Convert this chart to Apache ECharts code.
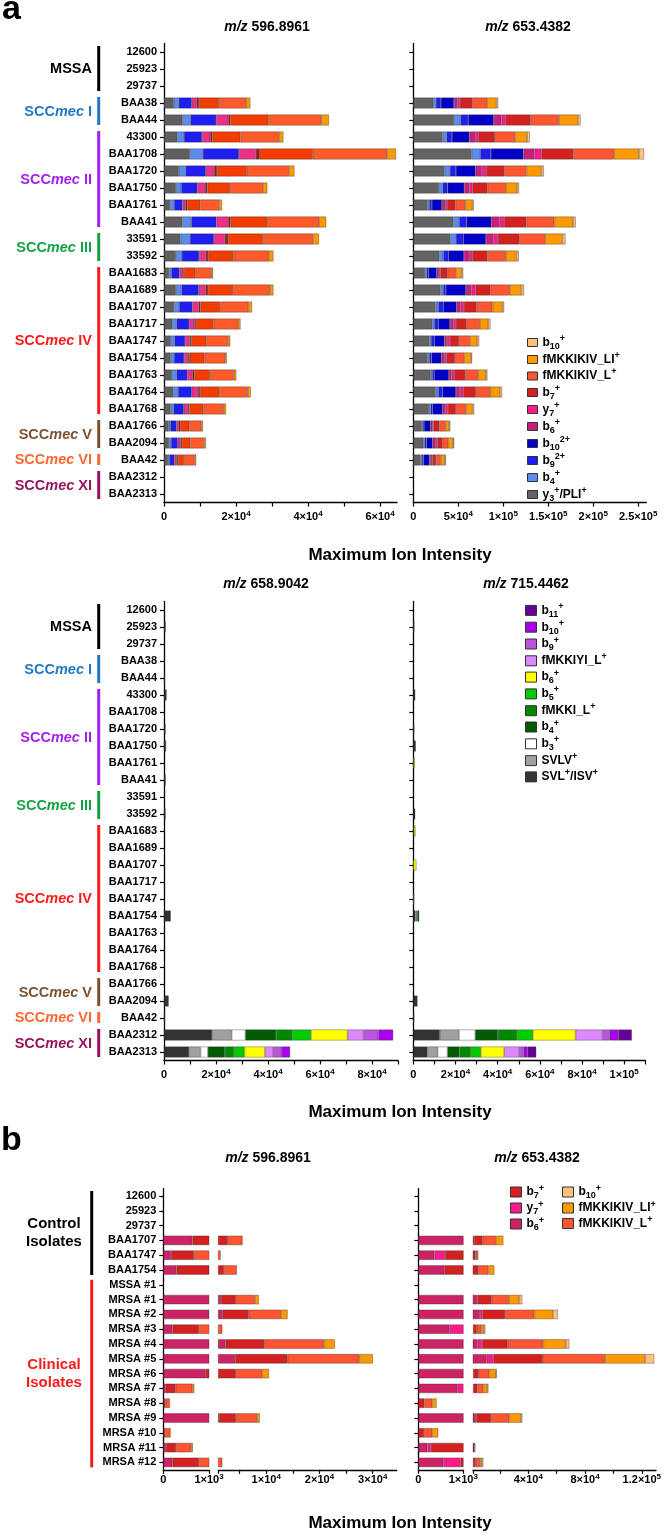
<!DOCTYPE html>
<html><head><meta charset="utf-8">
<script src="https://cdn.jsdelivr.net/npm/echarts@6/dist/echarts.min.js"></script>
<style>html,body{margin:0;padding:0;background:#fff}#c{width:668px;height:1535px}</style>
</head><body><div id="c"></div>
<script>
// ---------------- DATA ----------------
const catsA = ['12600','25923','29737','BAA38','BAA44','43300','BAA1708','BAA1720','BAA1750','BAA1761','BAA41','33591','33592','BAA1683','BAA1689','BAA1707','BAA1717','BAA1747','BAA1754','BAA1763','BAA1764','BAA1768','BAA1766','BAA2094','BAA42','BAA2312','BAA2313'];
const catsB = ['12600','25923','29737','BAA1707','BAA1747','BAA1754','MSSA #1','MRSA #1','MRSA #2','MRSA #3','MRSA #4','MRSA #5','MRSA #6','MRSA #7','MRSA #8','MRSA #9','MRSA #10','MRSA #11','MRSA #12'];

// panel a, m/z 596.8961
const mz596_y3PLI = [0,0,0,2700,5100,3700,7200,4100,3300,1700,5100,4600,3300,1400,3300,2800,2300,1900,1850,2200,2600,1850,1300,1400,1100,0,0];
const mz596_b4    = [0,0,0,1400,2300,1850,3600,1950,1500,1100,2500,2600,1650,650,1550,1400,1200,1000,930,1300,1300,830,460,560,370,0,0];
const mz596_b9_2  = [0,0,0,3600,7100,5000,10000,5550,4450,2300,6950,6650,4800,2200,4800,3700,3500,2950,2800,2950,3800,2800,1650,1850,1400,0,0];
const mz596_b6    = [0,0,0,1300,3350,2300,4700,2300,2150,830,3250,3050,1850,1100,1850,1750,1400,1200,1100,1400,1750,1200,650,740,560,0,0];
const mz596_y7    = [0,0,0,740,560,560,1100,830,650,560,650,930,650,190,740,460,460,460,460,560,560,370,460,460,460,0,0];
const mz596_b7    = [0,0,0,5550,10550,7800,14700,8250,6300,3600,10200,9650,7050,3150,6950,5450,4900,4250,4100,4350,5300,3900,2500,2300,1650,0,0];
const mz596_L     = [0,0,0,7600,14700,10650,20650,11750,9150,5200,14450,13900,9800,4550,10200,7900,6850,6000,5750,6600,7950,5650,3350,3800,2950,0,0];
const mz596_LI    = [0,0,0,1100,2150,1300,2500,1500,1200,830,1950,1650,1300,370,1000,1000,650,650,460,740,830,650,460,560,460,0,0];

// panel a, m/z 653.4382
const mz653_y3PLI = [0,0,0,22200,45100,32600,64800,34800,28500,15500,44400,41100,28900,13000,30300,24800,21100,17800,15500,19200,24800,17400,9250,11100,8150,0,0];
const mz653_b4    = [0,0,0,2950,7400,4450,9600,5900,4050,2200,6650,6300,4450,1850,2950,2950,2200,1850,2200,1850,2950,1850,1100,1500,1500,0,0];
const mz653_b9_2  = [0,0,0,5550,8500,5900,11850,6650,5550,2950,8150,8150,5550,1850,2950,5550,4450,3700,2600,2200,4800,2200,1500,2200,1500,0,0];
const mz653_b10_2 = [0,0,0,14450,28500,19250,36250,21850,18500,11100,27750,25150,17400,9250,22200,14800,12950,11100,11100,16300,14800,11100,7400,6650,6650,0,0];
const mz653_b6    = [0,0,0,3700,8500,6650,12200,7050,5900,3700,8500,8150,6650,2600,6300,4450,3700,2950,2950,2950,4450,2950,1850,3700,1850,0,0];
const mz653_y7    = [0,0,0,2950,4800,3350,7800,4800,3350,2200,5550,5200,2600,1850,4450,3700,2950,3350,2600,2950,3700,2950,1500,1850,1500,0,0];
const mz653_b7    = [0,0,0,13700,27400,18500,35200,20000,16650,9250,24800,23700,16650,7800,16650,14050,11850,10000,9250,12200,14050,8900,6300,5550,4050,0,0];
const mz653_L     = [0,0,0,16650,31800,22200,45150,24800,20350,11100,31100,28850,20700,9250,21450,17750,14800,12200,10350,14450,16300,11100,7050,6300,5200,0,0];
const mz653_LI    = [0,0,0,10350,21100,13700,28100,16650,12600,7800,20700,19250,11850,6300,12950,11100,9250,8150,7800,8500,10350,7400,4050,5550,4800,0,0];
const mz653_b10   = [0,0,0,1850,2950,2950,5550,2600,2200,1500,2950,3350,2600,1850,2950,1850,2600,2200,1100,1850,2600,1850,1100,1100,1100,0,0];

// panel a, m/z 658.9042
const mz658_SVL    = [0,650,0,0,400,1000,0,600,800,0,650,0,600,0,0,0,0,0,2600,0,0,0,0,1800,400,18500,9650];
const mz658_SVLV   = [0,0,0,0,0,0,0,0,0,0,0,0,0,0,0,0,0,0,0,0,0,0,0,0,0,7540,4420];
const mz658_b3     = [0,0,0,0,0,0,0,0,0,0,0,0,0,0,0,0,0,0,0,0,0,0,0,0,0,5270,2810];
const mz658_b4     = [0,0,0,0,0,0,0,0,0,0,0,0,0,0,0,0,0,0,0,0,0,0,0,0,0,11800,6540];
const mz658_fMKKI  = [0,0,0,0,0,0,0,0,0,0,0,0,0,0,0,0,0,0,0,0,0,0,0,0,0,6190,3460];
const mz658_b5     = [0,0,0,0,0,0,0,0,0,0,0,0,0,0,0,0,0,0,0,0,0,0,0,0,0,7230,4080];
const mz658_b6     = [0,0,0,0,0,0,0,0,0,0,0,0,0,0,0,0,0,0,0,0,0,0,0,0,0,14080,7880];
const mz658_fMKKIYI= [0,0,0,0,0,0,0,0,0,0,0,0,0,0,0,0,0,0,0,0,0,0,0,0,0,6080,3120];
const mz658_b9     = [0,0,0,0,0,0,0,0,0,0,0,0,0,0,0,0,0,0,0,0,0,0,0,0,0,5730,3120];
const mz658_b10    = [0,0,0,0,0,0,0,0,0,0,0,0,0,0,0,0,0,0,0,0,0,0,0,0,0,5730,3420];
const mz658_b11    = [0,0,0,0,0,0,0,0,0,0,0,0,0,0,0,0,0,0,0,0,0,0,0,0,0,0,0];

// panel a, m/z 715.4462
const mz715_SVL    = [0,500,0,0,0,950,0,480,1200,0,0,0,950,200,0,0,0,0,1000,0,0,0,0,2000,400,12540,6700];
const mz715_SVLV   = [0,0,0,0,0,0,0,0,0,0,0,0,0,0,0,0,0,0,600,0,0,0,0,0,0,9120,4850];
const mz715_b3     = [0,0,0,0,0,0,0,0,0,0,0,0,0,0,0,0,0,0,300,0,0,0,0,0,0,7700,4660];
const mz715_b4     = [0,0,0,0,0,0,0,0,0,0,0,0,0,0,0,0,0,0,900,0,0,0,0,0,0,10740,5650];
const mz715_fMKKI  = [0,0,0,0,0,0,0,0,0,0,0,0,0,0,0,0,0,0,0,0,0,0,0,0,0,9070,5460];
const mz715_b5     = [0,0,0,0,0,0,0,0,0,0,0,0,0,0,0,0,0,0,0,0,0,0,0,0,0,7510,4660];
const mz715_b6     = [0,0,0,0,0,0,0,0,0,700,0,0,0,900,0,1500,0,450,0,0,0,0,0,0,0,20240,11120];
const mz715_fMKKIYI= [0,0,0,0,0,0,0,0,0,0,0,0,0,0,0,0,0,0,0,0,0,0,0,0,0,12730,7080];
const mz715_b9     = [0,0,0,0,0,0,0,0,0,0,0,0,0,0,0,0,0,0,0,0,0,0,0,0,0,3470,2040];
const mz715_b10    = [0,0,0,0,0,0,0,0,0,0,0,0,0,0,0,0,0,0,0,0,0,0,0,0,0,4040,2040];
const mz715_b11    = [0,0,0,0,0,0,0,0,0,0,0,0,0,0,0,0,0,0,0,0,0,0,0,0,0,6460,4040];

// panel b, m/z 596.8961
const b596_b6 = [0,0,0,640,170,290,0,1510,1830,200,2400,4180,930,51,0,1130,0,60,200];
const b596_b7 = [0,0,0,2140,500,1790,0,2790,4880,580,7300,9840,3370,219,50,3170,37,220,580];
const b596_L  = [0,0,0,2790,774,2410,0,3560,6040,980,11110,13460,4950,365,95,4000,124,336,980];
const b596_LI = [0,0,0,0,0,0,0,760,1270,0,2090,2540,1270,44,0,510,0,30,0];
// panel b, m/z 653.4382
const b653_b6  = [0,0,0,1700,356,578,0,4290,5940,690,4290,10650,1050,874,0,3000,0,200,556];
const b653_y7  = [0,0,0,0,237,0,0,0,1650,330,3060,4940,0,130,0,500,0,80,385];
const b653_b7  = [0,0,0,6120,2060,4190,0,9890,16000,2590,18120,34590,4000,3060,133,10210,126,1660,1940];
const b653_L   = [0,0,0,9420,1410,7060,0,12230,20710,3290,25180,44000,7530,4230,178,12940,185,710,3060];
const b653_LI  = [0,0,0,5170,700,4240,0,7290,12940,1880,15760,28240,4470,2830,96,8000,133,0,1410];
const b653_b10 = [0,0,0,0,0,0,0,2120,3530,940,2590,6350,700,700,0,1170,0,0,940];

// axis ticks / labels
const ticksA1 = [0,10000,20000,30000,40000,50000,60000];
const labelsA1 = [0,20000,40000,60000];
const ticksA2 = [0,50000,100000,150000,200000,250000];
const ticksM1 = [0,10000,20000,30000,40000,50000,60000,70000,80000,90000];
const labelsM1 = [0,20000,40000,60000,80000];
const ticksM2 = [0,10000,20000,30000,40000,50000,60000,70000,80000,90000,100000,110000];
const labelsM2 = [0,20000,40000,60000,80000,100000];
const ticksBlo = [0,1000];
const ticksB1hi = [1000,5000,10000,15000,20000,25000,30000];
const labelsB1hi = [10000,20000,30000];
const ticksB2hi = [1000,20000,40000,60000,80000,100000,120000];
const labelsB2hi = [40000,80000,120000];

// groups
const groupsA = [
  {pre:'MSSA', mec:'', from:'12600', to:'29737', color:'#000000'},
  {pre:'SCC', mec:'mec', post:' I', from:'BAA38', to:'BAA44', color:'#1f78c1'},
  {pre:'SCC', mec:'mec', post:' II', from:'43300', to:'BAA41', color:'#a31ff0'},
  {pre:'SCC', mec:'mec', post:' III', from:'33591', to:'33592', color:'#16a045'},
  {pre:'SCC', mec:'mec', post:' IV', from:'BAA1683', to:'BAA1768', color:'#ff1a1a'},
  {pre:'SCC', mec:'mec', post:' V', from:'BAA1766', to:'BAA2094', color:'#7c5230'},
  {pre:'SCC', mec:'mec', post:' VI', from:'BAA42', to:'BAA42', color:'#ff6633'},
  {pre:'SCC', mec:'mec', post:' XI', from:'BAA2312', to:'BAA2313', color:'#96145f'}
];
const groupsB = [
  {text:'Control\nIsolates', from:'12600', to:'BAA1754', color:'#000000'},
  {text:'Clinical\nIsolates', from:'MSSA #1', to:'MRSA #12', color:'#ff1a1a'}
];

// ---------------- CHART ----------------
const FONT = "'Liberation Sans', Arial, Helvetica, sans-serif";
function sci(v){
  if (v === 0) return '{t|0}';
  const e = Math.floor(Math.log10(v) + 1e-9);
  const m = +(v / Math.pow(10, e)).toFixed(2);
  return '{t|' + m + '×10}{e|' + e + '}';
}
const tickRich = {
  t:{fontFamily:FONT, fontSize:11, fontWeight:'bold', color:'#000', lineHeight:14},
  e:{fontFamily:FONT, fontSize:8, fontWeight:'bold', color:'#000', verticalAlign:'top', height:8}
};
function richify(s){
  let out = '', buf = '', i = 0;
  const flush = () => { if (buf) { out += '{n|' + buf + '}'; buf = ''; } };
  while (i < s.length) {
    if ((s[i] === '_' || s[i] === '^') && s[i+1] === '{') {
      const j = s.indexOf('}', i);
      flush();
      out += '{' + (s[i] === '_' ? 'sub' : 'sup') + '|' + s.slice(i+2, j) + '}';
      i = j + 1;
    } else { buf += s[i]; i++; }
  }
  flush();
  return out;
}
function legRich(lh){
  return {
    n:{fontFamily:FONT, fontSize:12, fontWeight:'bold', color:'#000', lineHeight:lh},
    sub:{fontFamily:FONT, fontSize:9, fontWeight:'bold', color:'#000', verticalAlign:'bottom', height:8},
    sup:{fontFamily:FONT, fontSize:9, fontWeight:'bold', color:'#000', verticalAlign:'top', height:8}
  };
}

const grids = [
  {left:164, top:43.5, width:233, height:459},
  {left:413.3, top:43.5, width:233, height:459},
  {left:164, top:601.5, width:234, height:459},
  {left:413.3, top:601.5, width:232, height:459},
  {left:163.3, top:1188.6, width:45.7, height:281.2},
  {left:218.3, top:1188.6, width:178.4, height:281.2},
  {left:418.3, top:1188.6, width:45, height:281.2},
  {left:473, top:1188.6, width:183, height:281.2}
].map(g => Object.assign({outerBoundsMode:'none', containLabel:false}, g));

function xAx(gi, min, max, ticks, labels, margin){
  return {type:'value', gridIndex:gi, min:min, max:max, splitLine:{show:false},
    axisLine:{show:true, onZero:false, lineStyle:{color:'#000', width:1.3}},
    axisTick:{show:true, length:4, lineStyle:{color:'#000', width:1.2}, customValues:ticks},
    axisLabel:{show:true, customValues:labels, formatter:(v)=>sci(v), rich:tickRich, margin:margin}};
}
function yAx(gi, cats, showLabels, show){
  return {type:'category', gridIndex:gi, data:cats, inverse:true, show:show,
    axisLine:{show:true, onZero:false, lineStyle:{color:'#000', width:1.3}},
    axisTick:{show:true, length:4, alignWithLabel:true, lineStyle:{color:'#000', width:1.2}},
    axisLabel:{show:showLabels, interval:0, margin:7, fontFamily:FONT, fontSize:11, fontWeight:'bold', color:'#000'},
    splitLine:{show:false}};
}
const xAxes = [
  xAx(0, 0, 64700, ticksA1, labelsA1, 7),
  xAx(1, 0, 259000, ticksA2, ticksA2, 7),
  xAx(2, 0, 90000, ticksM1, labelsM1, 7),
  xAx(3, 0, 110000, ticksM2, labelsM2, 7),
  xAx(4, 0, 1000, ticksBlo, ticksBlo, 3),
  xAx(5, 1000, 34500, ticksB1hi, labelsB1hi, 3),
  xAx(6, 0, 1000, ticksBlo, ticksBlo, 3),
  xAx(7, 1000, 130000, ticksB2hi, labelsB2hi, 3)
];
const yAxes = [
  yAx(0, catsA, true, true), yAx(1, catsA, false, true),
  yAx(2, catsA, true, true), yAx(3, catsA, false, true),
  yAx(4, catsB, true, true), yAx(5, catsB, false, false),
  yAx(6, catsB, false, true), yAx(7, catsB, false, false)
];

function stack(prefix, defs, xi, bw){
  return defs.map(d => ({
    type:'bar', name:prefix + '|' + d.label, stack:'s' + xi, xAxisIndex:xi, yAxisIndex:xi,
    barWidth:bw, clip:true, animation:false,
    data:d.values.map(v => v > 0 ? v : '-'),
    itemStyle:{color:d.color, borderColor:'rgba(45,45,45,0.6)', borderWidth:0.6},
    emphasis:{disabled:true}
  }));
}
const defsA1 = [
  {label:'y_{3}^{+}/PLI^{+}', color:'#5f5f5f', values:mz596_y3PLI},
  {label:'b_{4}^{+}', color:'#5a8cf0', values:mz596_b4},
  {label:'b_{9}^{2+}', color:'#1e1ef0', values:mz596_b9_2},
  {label:'b_{6}^{+}', color:'#ec2f88', values:mz596_b6},
  {label:'y_{7}^{+}', color:'#a8141c', values:mz596_y7},
  {label:'b_{7}^{+}', color:'#f33c00', values:mz596_b7},
  {label:'fMKKIKIV_L^{+}', color:'#ff5a2a', values:mz596_L},
  {label:'fMKKIKIV_LI^{+}', color:'#ff9900', values:mz596_LI}
];
const defsA2 = [
  {label:'y_{3}^{+}/PLI^{+}', color:'#636363', values:mz653_y3PLI},
  {label:'b_{4}^{+}', color:'#5a8cf0', values:mz653_b4},
  {label:'b_{9}^{2+}', color:'#1e1ef5', values:mz653_b9_2},
  {label:'b_{10}^{2+}', color:'#0000c8', values:mz653_b10_2},
  {label:'b_{6}^{+}', color:'#c8207a', values:mz653_b6},
  {label:'y_{7}^{+}', color:'#ff1a8c', values:mz653_y7},
  {label:'b_{7}^{+}', color:'#d42020', values:mz653_b7},
  {label:'fMKKIKIV_L^{+}', color:'#ff5530', values:mz653_L},
  {label:'fMKKIKIV_LI^{+}', color:'#ff9900', values:mz653_LI},
  {label:'b_{10}^{+}', color:'#ffc080', values:mz653_b10}
];
const colM = {SVL:'#333333', SVLV:'#a0a0a0', b3:'#ffffff', b4:'#005a00', fMKKI:'#008800', b5:'#00cc00', b6:'#ffff00', fMKKIYI:'#dd88ff', b9:'#bb55dd', b10:'#aa00ee', b11:'#660099'};
const labM = {SVL:'SVL^{+}/ISV^{+}', SVLV:'SVLV^{+}', b3:'b_{3}^{+}', b4:'b_{4}^{+}', fMKKI:'fMKKI_L^{+}', b5:'b_{5}^{+}', b6:'b_{6}^{+}', fMKKIYI:'fMKKIYI_L^{+}', b9:'b_{9}^{+}', b10:'b_{10}^{+}', b11:'b_{11}^{+}'};
const keysM = ['SVL','SVLV','b3','b4','fMKKI','b5','b6','fMKKIYI','b9','b10','b11'];
const valsM1 = {SVL:mz658_SVL, SVLV:mz658_SVLV, b3:mz658_b3, b4:mz658_b4, fMKKI:mz658_fMKKI, b5:mz658_b5, b6:mz658_b6, fMKKIYI:mz658_fMKKIYI, b9:mz658_b9, b10:mz658_b10, b11:mz658_b11};
const valsM2 = {SVL:mz715_SVL, SVLV:mz715_SVLV, b3:mz715_b3, b4:mz715_b4, fMKKI:mz715_fMKKI, b5:mz715_b5, b6:mz715_b6, fMKKIYI:mz715_fMKKIYI, b9:mz715_b9, b10:mz715_b10, b11:mz715_b11};
const defsM1 = keysM.map(k => ({label:labM[k], color:colM[k], values:valsM1[k]}));
const defsM2 = keysM.map(k => ({label:labM[k], color:colM[k], values:valsM2[k]}));
const colB = {b6:'#cc2266', y7:'#ff1a8c', b7:'#d42020', L:'#ff5530', LI:'#ff9900', b10:'#ffc080'};
const labB = {b6:'b_{6}^{+}', y7:'y_{7}^{+}', b7:'b_{7}^{+}', L:'fMKKIKIV_L^{+}', LI:'fMKKIKIV_LI^{+}', b10:'b_{10}^{+}'};
const defsB1 = [['b6',b596_b6],['b7',b596_b7],['L',b596_L],['LI',b596_LI]].map(([k,v]) => ({label:labB[k], color:colB[k], values:v}));
const defsB2 = [['b6',b653_b6],['y7',b653_y7],['b7',b653_b7],['L',b653_L],['LI',b653_LI],['b10',b653_b10]].map(([k,v]) => ({label:labB[k], color:colB[k], values:v}));

const series = [].concat(
  stack('A1', defsA1, 0, 11), stack('A', defsA2, 1, 11),
  stack('M', defsM1, 2, 11), stack('M', defsM2, 3, 11),
  stack('B', defsB1, 4, 9.5), stack('B', defsB1, 5, 9.5),
  stack('B', defsB2, 6, 9.5), stack('B', defsB2, 7, 9.5)
);

function legend(prefix, labels, left, top, iw, ih, lh){
  return {orient:'vertical', left:left, top:top, icon:'rect', itemWidth:iw, itemHeight:ih, itemGap:0,
    selectedMode:false, padding:0,
    data:labels.map(l => prefix + '|' + l),
    itemStyle:{borderColor:'#333', borderWidth:1},
    formatter:(name) => richify(name.slice(name.indexOf('|') + 1)),
    textStyle:{fontFamily:FONT, fontSize:12, fontWeight:'bold', color:'#000', lineHeight:lh, rich:legRich(lh)}};
}
const legends = [
  legend('A', ['b_{10}^{+}','fMKKIKIV_LI^{+}','fMKKIKIV_L^{+}','b_{7}^{+}','y_{7}^{+}','b_{6}^{+}','b_{10}^{2+}','b_{9}^{2+}','b_{4}^{+}','y_{3}^{+}/PLI^{+}'], 527, 334, 10, 8, 16),
  legend('M', keysM.slice().reverse().map(k => labM[k]), 525, 602, 11, 10, 15.8),
  legend('B', ['b_{7}^{+}','y_{7}^{+}','b_{6}^{+}'], 510, 1184, 11, 10, 15),
  legend('B', ['b_{10}^{+}','fMKKIKIV_LI^{+}','fMKKIKIV_L^{+}'], 562, 1184, 11, 10, 15)
];

const chart = echarts.init(document.getElementById('c'), null, {renderer:'canvas'});
chart.setOption({
  animation:false, backgroundColor:'#fff',
  textStyle:{fontFamily:FONT},
  grid:grids, xAxis:xAxes, yAxis:yAxes, series:series, legend:legends
});

// ---------------- ANNOTATIONS ----------------
const g = [];
function txt(x, y, text, opts){
  g.push({type:'text', x:x, y:y, silent:true, style:Object.assign({text:text, fill:'#000',
    fontFamily:FONT, fontWeight:'bold', fontSize:14, align:'center', verticalAlign:'middle',
    textAlign:'center', textVerticalAlign:'middle'}, opts || {})});
}
function line(x, y1, y2, color){
  g.push({type:'line', silent:true, shape:{x1:x, y1:y1, x2:x, y2:y2}, style:{stroke:color, lineWidth:3}});
}
const titleRich = {
  i:{fontFamily:FONT, fontSize:14, fontWeight:'bold', fontStyle:'italic', color:'#000'},
  b:{fontFamily:FONT, fontSize:14, fontWeight:'bold', color:'#000'}
};
function title(x, y, mz){ txt(x, y, '{i|m/z}{b| ' + mz + '}', {rich:titleRich}); }
title(267, 27, '596.8961'); title(528, 27, '653.4382');
title(266, 584, '658.9042'); title(526, 584, '715.4462');
title(268, 1158, '596.8961'); title(537, 1158, '653.4382');
[555, 1112, 1523].forEach(y => txt(400, y, 'Maximum Ion Intensity', {fontSize:17}));
txt(2, 10, 'a', {fontSize:34, align:'left', textAlign:'left'});
txt(1, 1141, 'b', {fontSize:34, align:'left', textAlign:'left'});

function yPix(axisIdx, cats, name){ return chart.convertToPixel({yAxisIndex:axisIdx}, cats.indexOf(name)); }
[0, 2].forEach(ai => {
  groupsA.forEach(gr => {
    const y1 = yPix(ai, catsA, gr.from), y2 = yPix(ai, catsA, gr.to);
    line(98.7, y1 - 6, y2 + 5, gr.color);
    const rich = {
      n:{fontFamily:FONT, fontSize:14.5, fontWeight:'bold', color:gr.color},
      i:{fontFamily:FONT, fontSize:14.5, fontWeight:'bold', fontStyle:'italic', color:gr.color}
    };
    const t = gr.mec ? '{n|' + gr.pre + '}{i|' + gr.mec + '}{n|' + gr.post + '}' : '{n|' + gr.pre + '}';
    txt(92, (y1 + y2) / 2, t, {rich:rich, fill:gr.color, align:'right', textAlign:'right'});
  });
});
groupsB.forEach(gr => {
  const y1 = yPix(4, catsB, gr.from), y2 = yPix(4, catsB, gr.to);
  line(91.7, y1 - 5, y2 + 5, gr.color);
  txt(54, (y1 + y2) / 2, gr.text, {fill:gr.color, fontSize:15, lineHeight:18});
});
chart.setOption({graphic:{elements:g}});
</script></body></html>
